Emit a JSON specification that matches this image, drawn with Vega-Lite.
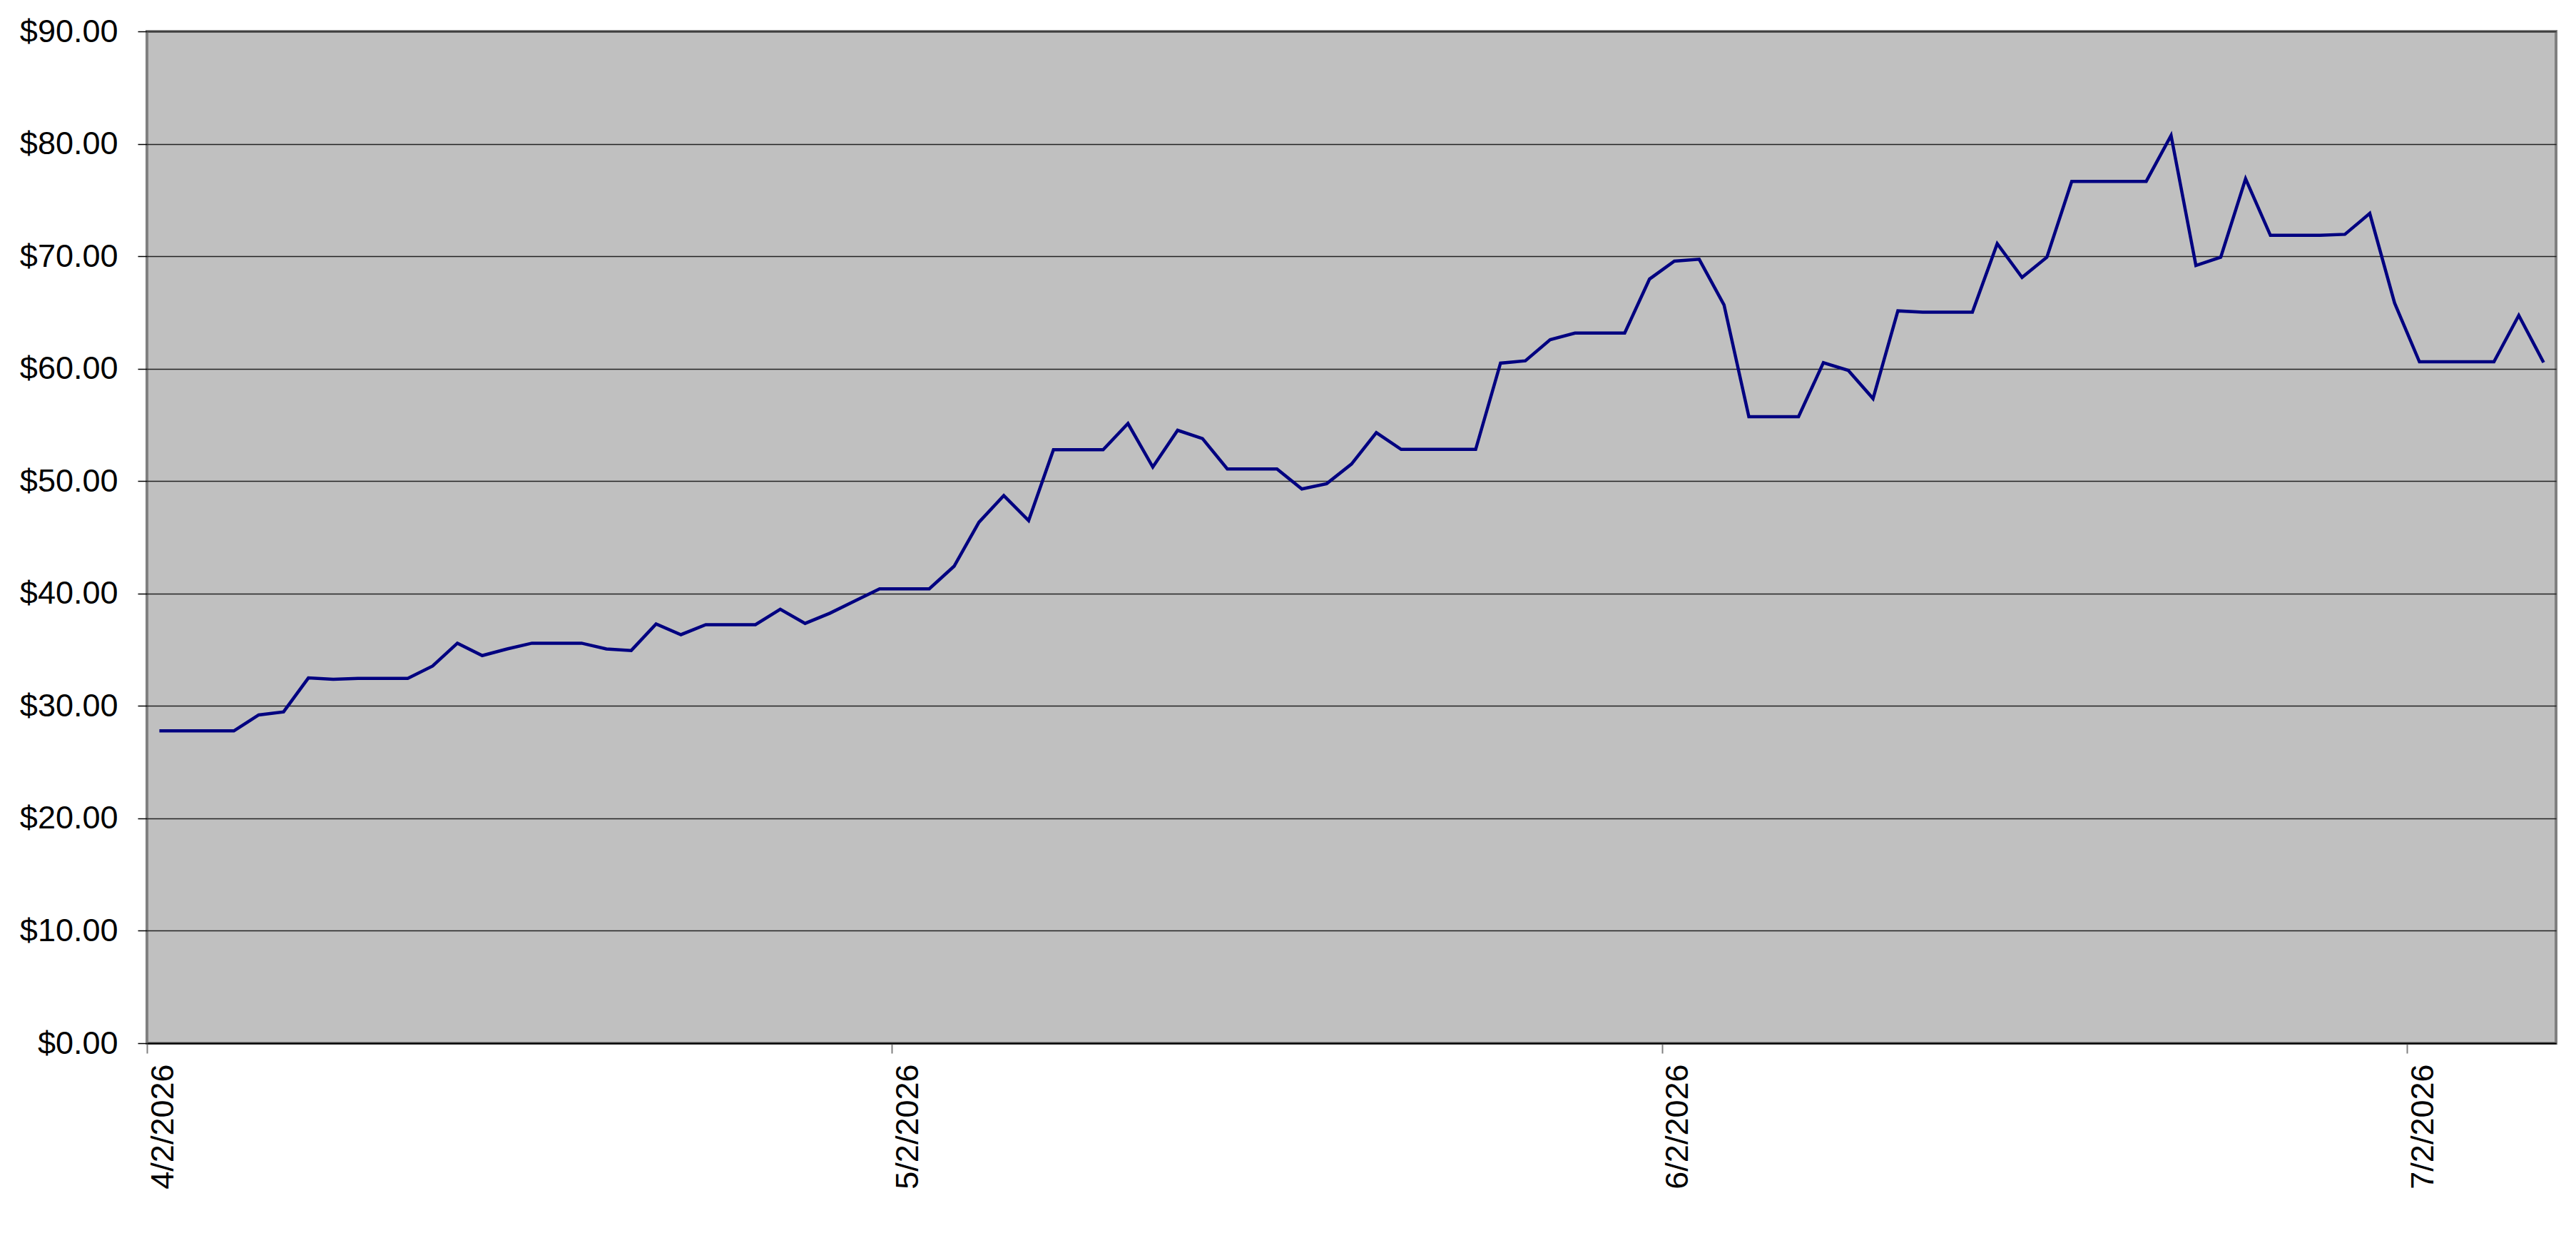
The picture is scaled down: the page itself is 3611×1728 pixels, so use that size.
{
  "$schema": "https://vega.github.io/schema/vega-lite/v6.json",
  "width": 3377,
  "height": 1418,
  "autosize": "none",
  "padding": {"left": 206, "top": 44, "right": 28, "bottom": 266},
  "background": "white",
  "config": {
    "font": "Liberation Sans",
    "view": {"fill": "#C0C0C0", "stroke": "#808080", "strokeWidth": 4}
  },
  "data": {
    "values": [
      {"date": "2026-04-02", "price": 27.78},
      {"date": "2026-04-03", "price": 27.78},
      {"date": "2026-04-04", "price": 27.78},
      {"date": "2026-04-05", "price": 27.78},
      {"date": "2026-04-06", "price": 29.2},
      {"date": "2026-04-07", "price": 29.47},
      {"date": "2026-04-08", "price": 32.49},
      {"date": "2026-04-09", "price": 32.37},
      {"date": "2026-04-10", "price": 32.45},
      {"date": "2026-04-11", "price": 32.45},
      {"date": "2026-04-12", "price": 32.45},
      {"date": "2026-04-13", "price": 33.55},
      {"date": "2026-04-14", "price": 35.58},
      {"date": "2026-04-15", "price": 34.48},
      {"date": "2026-04-16", "price": 35.07},
      {"date": "2026-04-17", "price": 35.58},
      {"date": "2026-04-18", "price": 35.58},
      {"date": "2026-04-19", "price": 35.58},
      {"date": "2026-04-20", "price": 35.07},
      {"date": "2026-04-21", "price": 34.93},
      {"date": "2026-04-22", "price": 37.29},
      {"date": "2026-04-23", "price": 36.34},
      {"date": "2026-04-24", "price": 37.23},
      {"date": "2026-04-25", "price": 37.23},
      {"date": "2026-04-26", "price": 37.23},
      {"date": "2026-04-27", "price": 38.6},
      {"date": "2026-04-28", "price": 37.34},
      {"date": "2026-04-29", "price": 38.25},
      {"date": "2026-04-30", "price": 39.34},
      {"date": "2026-05-01", "price": 40.42},
      {"date": "2026-05-02", "price": 40.42},
      {"date": "2026-05-03", "price": 40.42},
      {"date": "2026-05-04", "price": 42.43},
      {"date": "2026-05-05", "price": 46.34},
      {"date": "2026-05-06", "price": 48.71},
      {"date": "2026-05-07", "price": 46.49},
      {"date": "2026-05-08", "price": 52.79},
      {"date": "2026-05-09", "price": 52.79},
      {"date": "2026-05-10", "price": 52.79},
      {"date": "2026-05-11", "price": 55.12},
      {"date": "2026-05-12", "price": 51.25},
      {"date": "2026-05-13", "price": 54.52},
      {"date": "2026-05-14", "price": 53.78},
      {"date": "2026-05-15", "price": 51.08},
      {"date": "2026-05-16", "price": 51.08},
      {"date": "2026-05-17", "price": 51.08},
      {"date": "2026-05-18", "price": 49.3},
      {"date": "2026-05-19", "price": 49.77},
      {"date": "2026-05-20", "price": 51.52},
      {"date": "2026-05-21", "price": 54.31},
      {"date": "2026-05-22", "price": 52.82},
      {"date": "2026-05-23", "price": 52.82},
      {"date": "2026-05-24", "price": 52.82},
      {"date": "2026-05-25", "price": 52.82},
      {"date": "2026-05-26", "price": 60.49},
      {"date": "2026-05-27", "price": 60.7},
      {"date": "2026-05-28", "price": 62.58},
      {"date": "2026-05-29", "price": 63.17},
      {"date": "2026-05-30", "price": 63.17},
      {"date": "2026-05-31", "price": 63.17},
      {"date": "2026-06-01", "price": 67.97},
      {"date": "2026-06-02", "price": 69.56},
      {"date": "2026-06-03", "price": 69.73},
      {"date": "2026-06-04", "price": 65.67},
      {"date": "2026-06-05", "price": 55.73},
      {"date": "2026-06-06", "price": 55.73},
      {"date": "2026-06-07", "price": 55.73},
      {"date": "2026-06-08", "price": 60.53},
      {"date": "2026-06-09", "price": 59.85},
      {"date": "2026-06-10", "price": 57.34},
      {"date": "2026-06-11", "price": 65.14},
      {"date": "2026-06-12", "price": 65.03},
      {"date": "2026-06-13", "price": 65.03},
      {"date": "2026-06-14", "price": 65.03},
      {"date": "2026-06-15", "price": 71.12},
      {"date": "2026-06-16", "price": 68.12},
      {"date": "2026-06-17", "price": 69.92},
      {"date": "2026-06-18", "price": 76.66},
      {"date": "2026-06-19", "price": 76.66},
      {"date": "2026-06-20", "price": 76.66},
      {"date": "2026-06-21", "price": 76.66},
      {"date": "2026-06-22", "price": 80.74},
      {"date": "2026-06-23", "price": 69.18},
      {"date": "2026-06-24", "price": 69.92},
      {"date": "2026-06-25", "price": 76.89},
      {"date": "2026-06-26", "price": 71.86},
      {"date": "2026-06-27", "price": 71.86},
      {"date": "2026-06-28", "price": 71.86},
      {"date": "2026-06-29", "price": 71.95},
      {"date": "2026-06-30", "price": 73.81},
      {"date": "2026-07-01", "price": 65.84},
      {"date": "2026-07-02", "price": 60.61},
      {"date": "2026-07-03", "price": 60.61},
      {"date": "2026-07-04", "price": 60.61},
      {"date": "2026-07-05", "price": 60.61},
      {"date": "2026-07-06", "price": 64.74},
      {"date": "2026-07-07", "price": 60.55}
    ]
  },
  "mark": {"type": "line", "color": "#000080", "strokeWidth": 4.5},
  "encoding": {
    "x": {
      "field": "date",
      "type": "temporal",
      "timeUnit": "utcyearmonthdate",
      "bandPosition": 0.5,
      "scale": {
        "type": "utc",
        "domain": [
          {"year": 2026, "month": 4, "date": 2, "utc": true},
          {"year": 2026, "month": 7, "date": 8, "utc": true}
        ]
      },
      "axis": {
        "title": null,
        "grid": false,
        "values": [
          {"year": 2026, "month": 4, "date": 2, "utc": true},
          {"year": 2026, "month": 5, "date": 2, "utc": true},
          {"year": 2026, "month": 6, "date": 2, "utc": true},
          {"year": 2026, "month": 7, "date": 2, "utc": true}
        ],
        "format": "%-m/%-d/%Y",
        "labelAngle": -90,
        "labelAlign": "right",
        "labelBaseline": "top",
        "labelFont": "Liberation Sans",
        "labelFontSize": 45,
        "labelColor": "black",
        "labelPadding": 15,
        "labelLimit": 600,
        "labelOverlap": false,
        "labelFlush": false,
        "tickSize": 14,
        "tickColor": "#808080",
        "tickWidth": 2,
        "domainColor": "black",
        "domainWidth": 2
      }
    },
    "y": {
      "field": "price",
      "type": "quantitative",
      "scale": {"domain": [0, 90], "nice": false},
      "axis": {
        "title": null,
        "values": [0, 10, 20, 30, 40, 50, 60, 70, 80, 90],
        "format": "$.2f",
        "labelFont": "Liberation Sans",
        "labelFontSize": 45,
        "labelColor": "black",
        "labelPadding": 28,
        "tickSize": 13,
        "tickColor": "black",
        "tickWidth": 1.5,
        "domain": false,
        "gridColor": "#222222",
        "gridWidth": 1.5
      }
    }
  }
}
